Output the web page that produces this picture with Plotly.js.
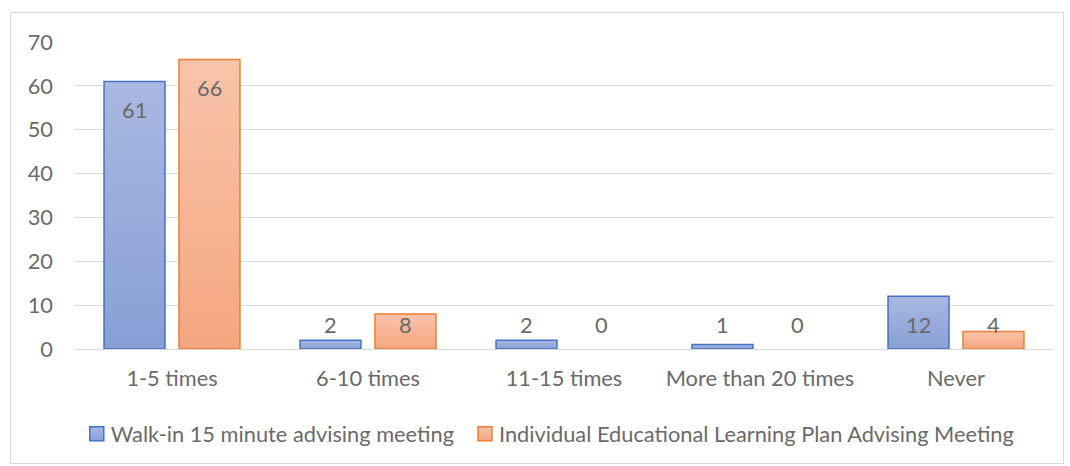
<!DOCTYPE html>
<html>
<head>
<meta charset="utf-8">
<script src="https://cdn.plot.ly/plotly-3.0.1.min.js"></script>
<style>
  html, body { margin: 0; padding: 0; background: #fff; }
  #frame { position: absolute; left: 10px; top: 12px; width: 1054px; height: 452px;
           border: 1px solid #D9D9D9; box-sizing: border-box; background: #fff; }
  #chart { width: 1052px; height: 450px; }
</style>
</head>
<body>
<div id="frame"><div id="chart"></div></div>
<script>
// ---- data ----
const categories = ['1-5 times', '6-10 times', '11-15 times', 'More than 20 times', 'Never'];
const walkInValues = [61, 2, 2, 1, 12];
const planValues = [66, 8, 0, 0, 4];
const seriesNames = ['Walk-in 15 minute advising meeting', 'Individual Educational Learning Plan Advising Meeting'];
const yTickValues = [0, 10, 20, 30, 40, 50, 60, 70];

// ---- style ----
const FONT_FAMILY = 'Lato, "Open Sans", sans-serif';
const TEXT_COLOR = '#6A6A6A';
const GRID_COLOR = '#D9D9D9';
const BLUE_LINE = '#4472C4', ORANGE_LINE = '#ED7D31';
const BLUE_FILL = '#99ACDC', ORANGE_FILL = '#F6B592';

function fitFontSize(sample, targetWidth) {
  const c = document.createElement('canvas').getContext('2d');
  c.font = '100px Lato';
  return targetWidth / c.measureText(sample).width * 100;
}

function draw() {
  const fs1 = fitFontSize(seriesNames[0], 348);
  const fs2 = fitFontSize('More than 20 times', 186);
  const FS = Math.round(((fs1 + fs2) / 2) * 10) / 10;

  const plotWidth = 1052 - 63 - 9;
  const bargap = 0.235;
  const slot = plotWidth / categories.length * (1 - bargap) / 2;

  const lineWidths = vals => vals.map(v => (v > 0 ? 1.5 : 0));

  const traces = [
    { type: 'bar', name: seriesNames[0], x: categories, y: walkInValues,
      marker: { color: BLUE_FILL, line: { color: BLUE_LINE, width: lineWidths(walkInValues) } },
      hoverinfo: 'x+y' },
    { type: 'bar', name: seriesNames[1], x: categories, y: planValues,
      marker: { color: ORANGE_FILL, line: { color: ORANGE_LINE, width: lineWidths(planValues) } },
      hoverinfo: 'x+y' }
  ];

  const annotations = [];
  [walkInValues, planValues].forEach((vals, si) => {
    vals.forEach((v, ci) => {
      annotations.push({
        x: categories[ci], y: Math.max(v, 12), xref: 'x', yref: 'y',
        text: String(v), showarrow: false,
        xshift: (si === 0 ? -1 : 1) * slot / 2, yshift: -28,
        xanchor: 'center', yanchor: 'middle',
        font: { family: FONT_FAMILY, size: FS, color: TEXT_COLOR }
      });
    });
  });

  const layout = {
    width: 1052, height: 450,
    margin: { l: 63, r: 9, t: 29, b: 113 },
    paper_bgcolor: '#fff', plot_bgcolor: '#fff',
    barmode: 'group', bargap: bargap, bargroupgap: 0.187,
    font: { family: FONT_FAMILY, size: FS, color: TEXT_COLOR },
    showlegend: true,
    legend: { orientation: 'h', x: 0.487, xanchor: 'center', y: -0.273, yanchor: 'middle',
              font: { family: FONT_FAMILY, size: FS, color: TEXT_COLOR },
              traceorder: 'normal' },
    xaxis: { type: 'category', showgrid: false, zeroline: false, showline: false, ticks: '',
             ticklabelstandoff: 14,
             tickfont: { family: FONT_FAMILY, size: FS, color: TEXT_COLOR } },
    yaxis: { range: [0, 70], tickvals: yTickValues, showgrid: true, gridcolor: GRID_COLOR, gridwidth: 1,
             zeroline: true, zerolinecolor: GRID_COLOR, zerolinewidth: 1, showline: false, ticks: '',
             ticklabelstandoff: 20,
             tickfont: { family: FONT_FAMILY, size: FS, color: TEXT_COLOR } },
    annotations: annotations
  };

  Plotly.newPlot('chart', traces, layout, { displayModeBar: false, staticPlot: true }).then(applyGradients);
}

function applyGradients(gd) {
  const svg = gd.querySelector('svg.main-svg');
  const NS = 'http://www.w3.org/2000/svg';
  let defs = svg.querySelector('defs');
  if (!defs) { defs = document.createElementNS(NS, 'defs'); svg.insertBefore(defs, svg.firstChild); }
  function grad(id, top, bottom) {
    const g = document.createElementNS(NS, 'linearGradient');
    g.setAttribute('id', id); g.setAttribute('x1', '0'); g.setAttribute('y1', '0');
    g.setAttribute('x2', '0'); g.setAttribute('y2', '1');
    [[0, top], [1, bottom]].forEach(([o, c]) => {
      const s = document.createElementNS(NS, 'stop');
      s.setAttribute('offset', o); s.setAttribute('stop-color', c);
      g.appendChild(s);
    });
    defs.appendChild(g);
  }
  grad('gradBlue', '#A9B8E1', '#889FD6');
  grad('gradOrange', '#F8C4AB', '#F5A67F');
  const ids = ['gradBlue', 'gradOrange'];
  gd.querySelectorAll('.barlayer .trace').forEach((t, i) => {
    t.querySelectorAll('path').forEach(p => { p.style.fill = 'url(#' + ids[i] + ')'; });
  });
  gd.querySelectorAll('.legend .traces').forEach((t, i) => {
    t.querySelectorAll('.legendpoints path').forEach(p => {
      p.setAttribute('d', 'M7,7H-7V-7H7Z');
      p.style.fill = 'url(#' + ids[i] + ')';
    });
    const txt = t.querySelector('text.legendtext');
    if (txt) txt.setAttribute('x', '34');
  });
}

if (document.fonts && document.fonts.load) {
  document.fonts.load('20px Lato').then(draw, draw);
} else { draw(); }
</script>
</body>
</html>
